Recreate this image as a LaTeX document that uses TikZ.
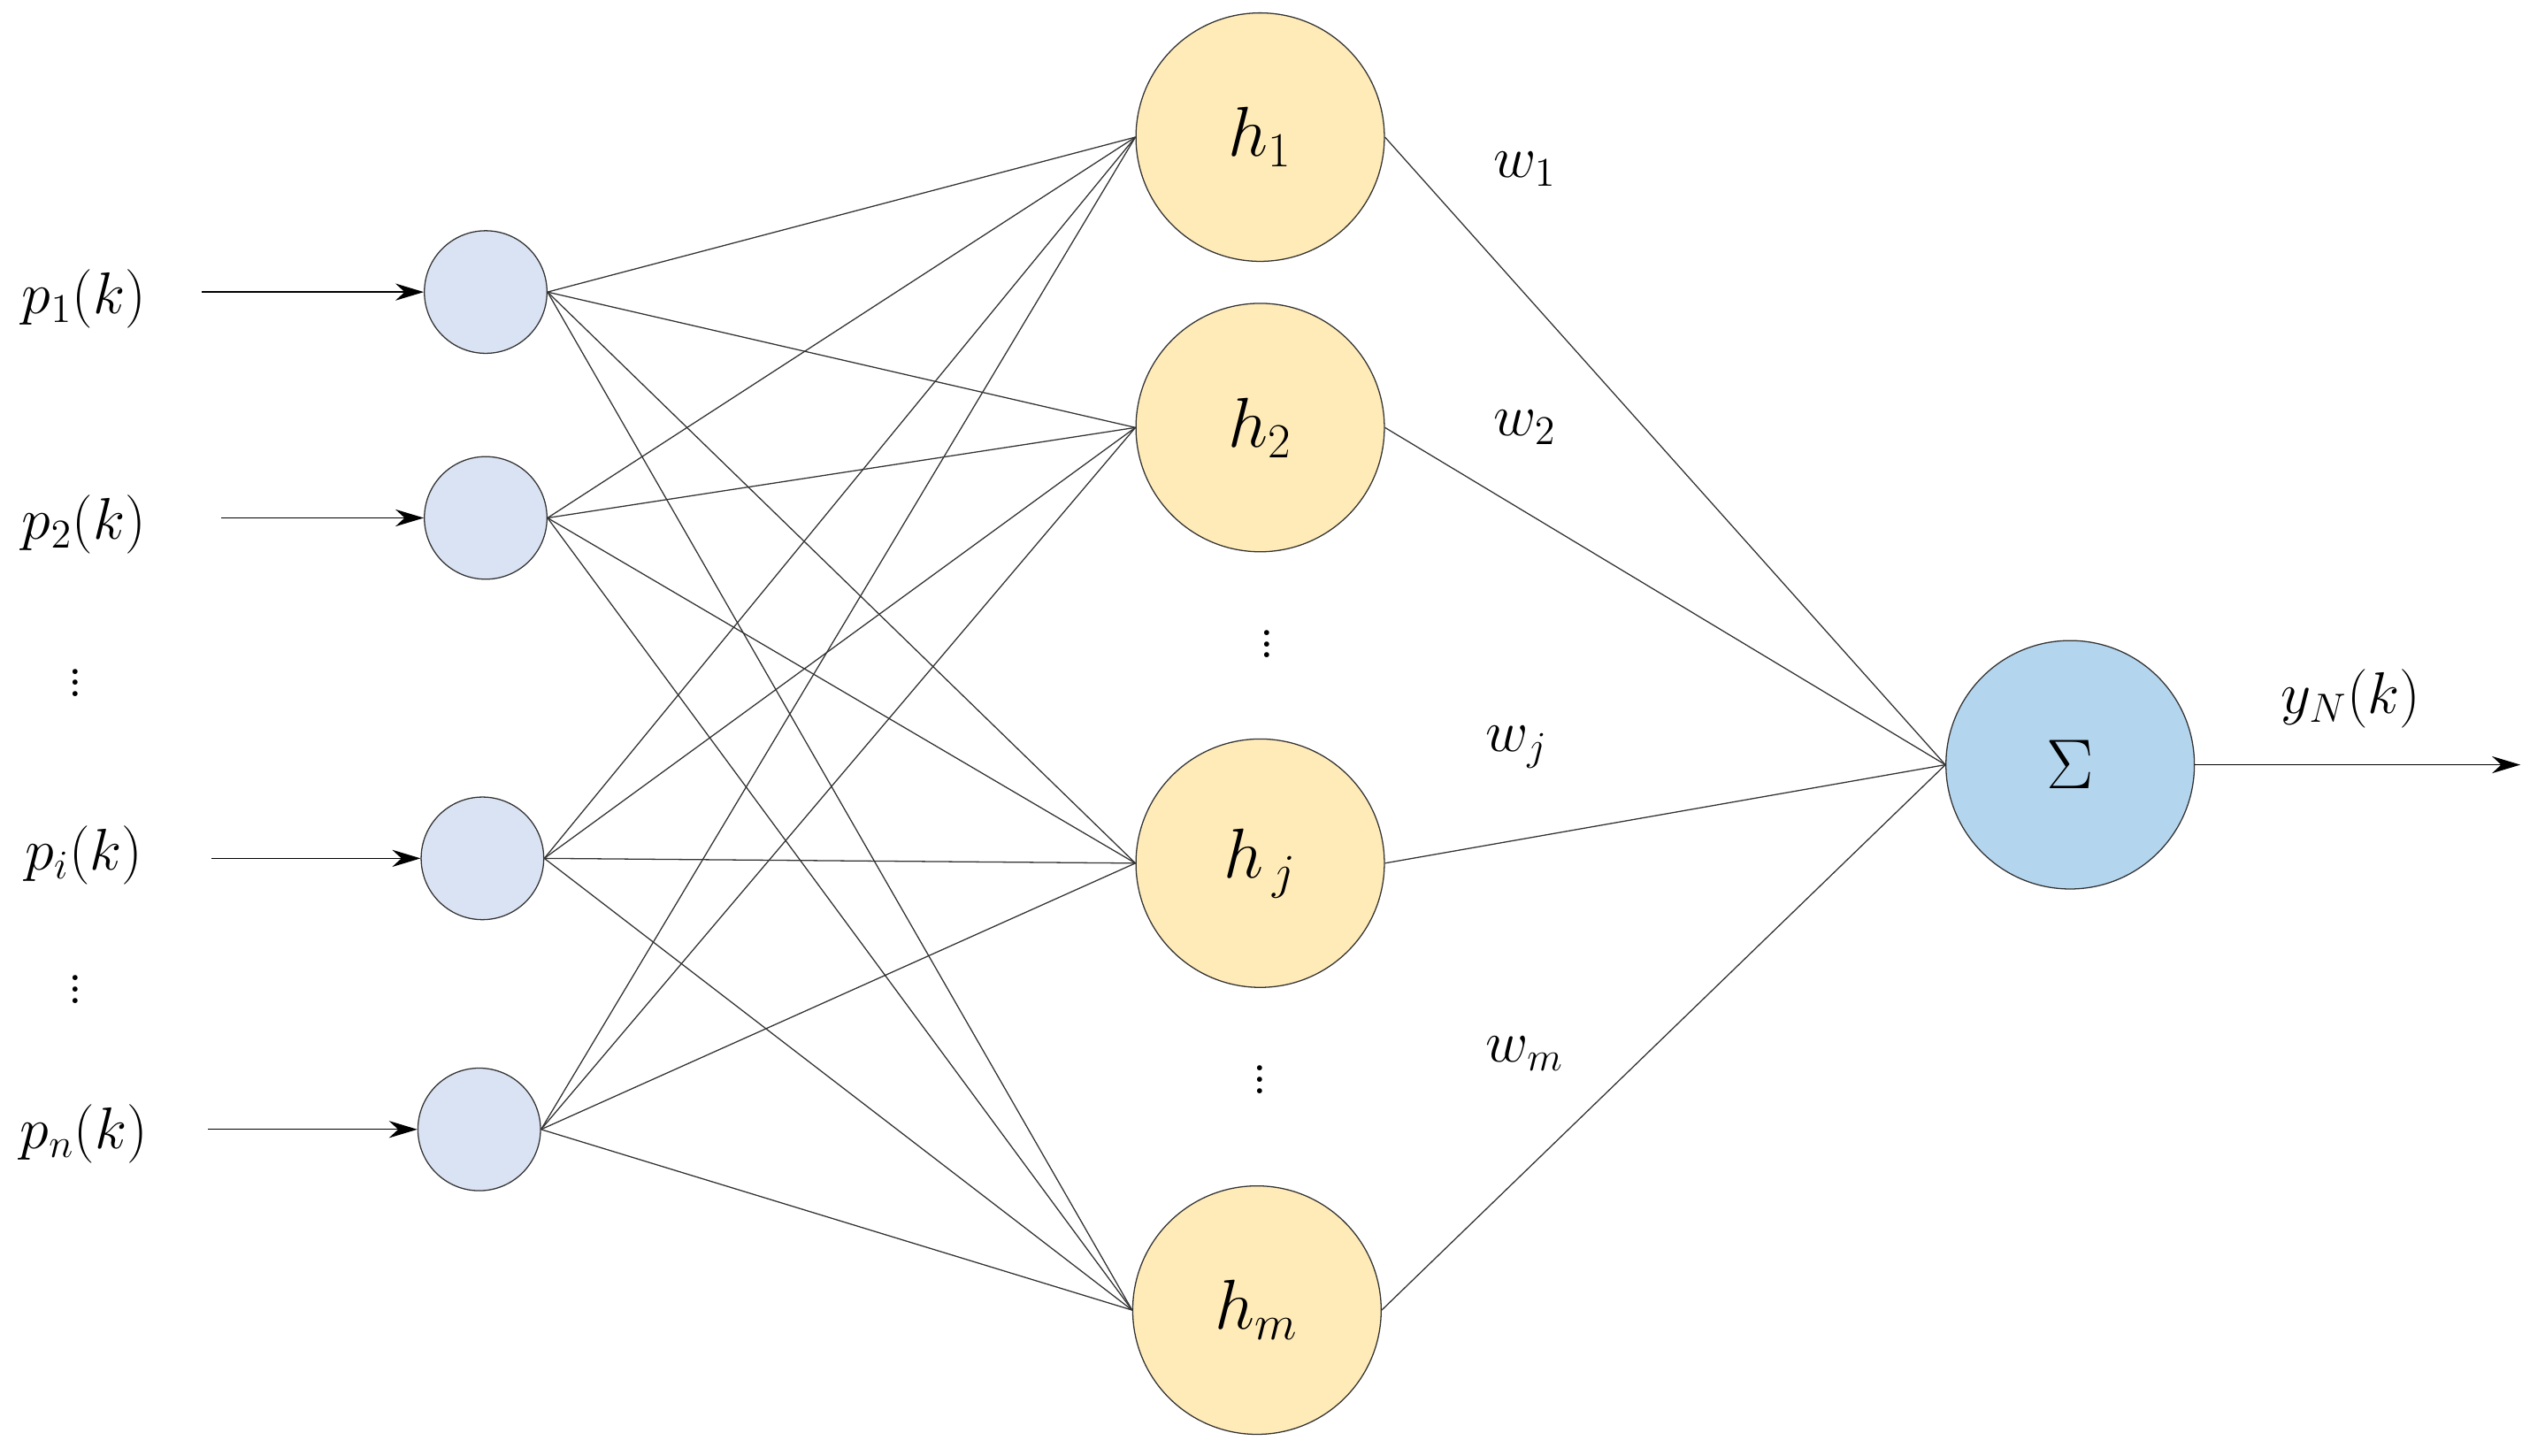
\documentclass[tikz,border=0pt]{standalone}
\usepackage{amsmath}
\usetikzlibrary{arrows.meta,positioning}
\definecolor{incol}{HTML}{DAE3F3}
\definecolor{hidcol}{HTML}{FFEBB8}
\definecolor{sumcol}{HTML}{B4D5EE}
\begin{document}
\begin{tikzpicture}[x=0.02cm,y=-0.02cm,
  inp/.style={circle, draw=black!80, thin, fill=incol, minimum size=1.52cm, inner sep=0pt},
  hid/.style={circle, draw=black!80, thin, fill=hidcol, minimum size=3.08cm, inner sep=0pt, font=\fontsize{24}{28}\selectfont},
  sum/.style={circle, draw=black!80, thin, fill=sumcol, minimum size=3.08cm, inner sep=0pt, font=\fontsize{30}{34}\selectfont},
  lbl/.style={font=\fontsize{22}{26}\selectfont},
  wire/.style={black!80, thin},
  arr/.style={-{Stealth[length=10pt,width=6pt]}, thin}
]
  \useasboundingbox (0,0) rectangle (1568,902);
  % Inputs
  \node[inp] (i1) at (301,181) {};
  \node[inp] (i2) at (301,321) {};
  \node[inp] (i3) at (299,532) {};
  \node[inp] (i4) at (297,700) {};
  \node[lbl] (p1) at (52,185) {$p_1(k)$};
  \node[lbl] (p2) at (52,325) {$p_2(k)$};
  \node[lbl] (pi) at (52,530) {$p_i(k)$};
  \node[lbl] (pn) at (52,703) {$p_n(k)$};
  \node[lbl] at (47,418) {$\vdots$};
  \node[lbl] at (47,608) {$\vdots$};
  \coordinate (s1) at (125,181);
  \coordinate (s2) at (137,321);
  \coordinate (s3) at (131,532);
  \coordinate (s4) at (129,700);
  \foreach \k in {1,...,4} \draw[arr] (s\k) -- (i\k.west);

  % Hidden layer
  \node[hid] (h1) at (781,85) {$h_1$};
  \node[hid] (h2) at (781,265) {$h_2$};
  \node[hid] (h3) at (781,535) {$h_{\,j}$};
  \node[hid] (h4) at (779,812) {$h_m$};
  \node[lbl] at (785,394) {$\vdots$};
  \node[lbl] at (781,664) {$\vdots$};
  \foreach \a in {1,...,4}
    \foreach \b in {1,...,4}
      \draw[wire] (i\a.east) -- (h\b.west);

  % Output
  \node[sum] (sig) at (1283,474) {$\Sigma$};
  \foreach \b in {1,...,4} \draw[wire] (h\b.east) -- (sig.west);
  \node[lbl] at (945,105) {$w_1$};
  \node[lbl] at (945,265) {$w_2$};
  \node[lbl] at (940,463) {$w_j$};
  \node[lbl] at (945,653) {$w_m$};
  \coordinate (out) at (1562,474);
  \draw[arr] (sig.east) -- (out);
  \node[lbl] at (1457,433) {$y_N(k)$};
\end{tikzpicture}
\end{document}
